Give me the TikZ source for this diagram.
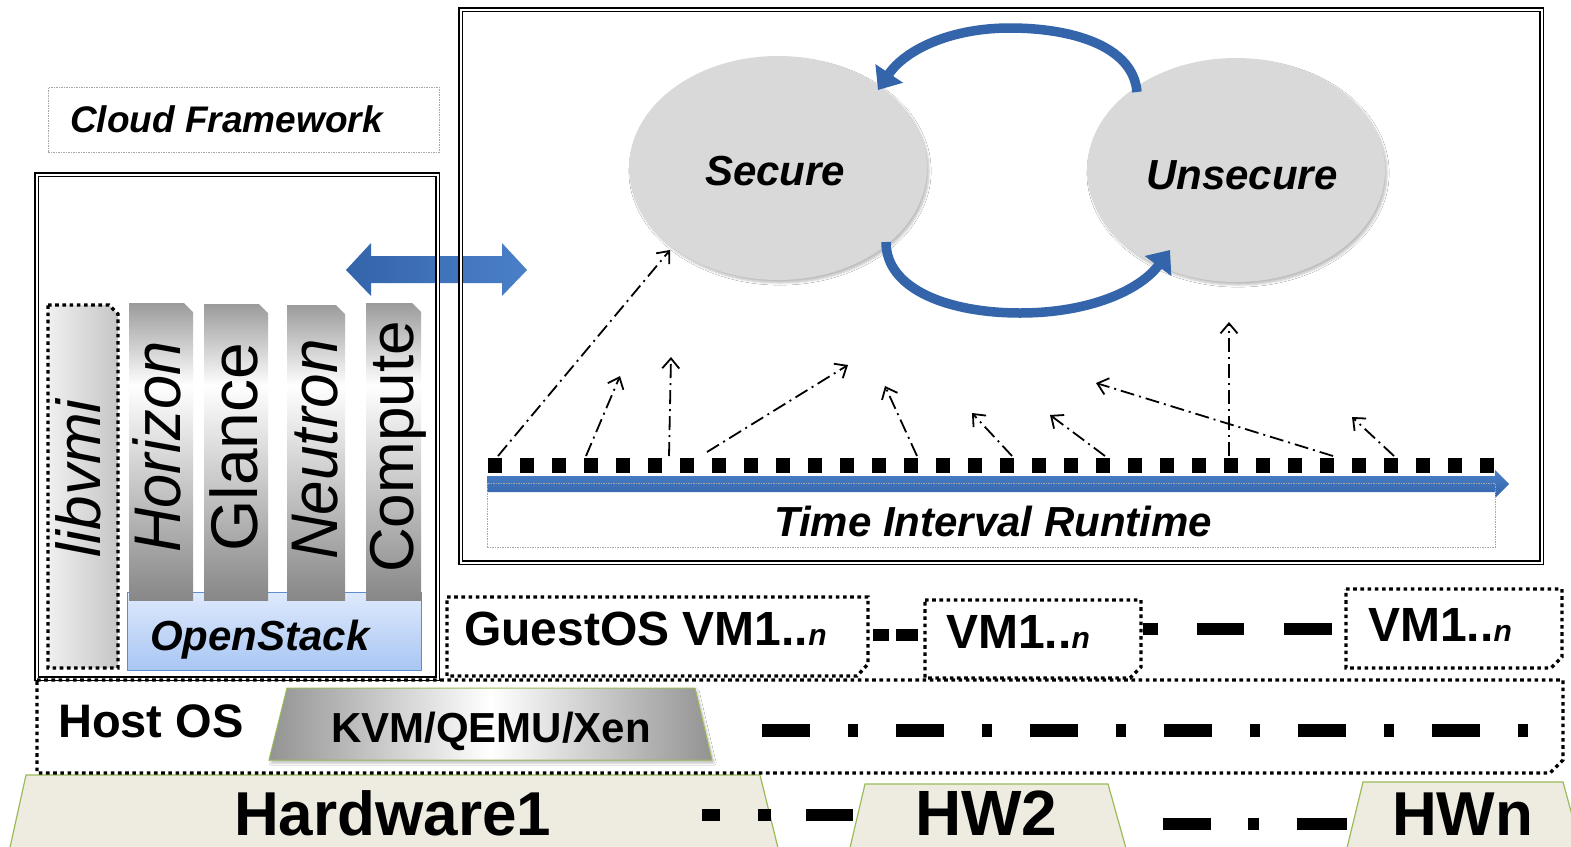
\documentclass[tikz,border=0pt]{standalone}
\usepackage{fontspec}
\setmainfont{Liberation Sans}
\usetikzlibrary{arrows.meta,shapes.geometric,shadows.blur}
\newcommand{\fsz}[1]{\fontsize{#1}{#1}\selectfont}
\definecolor{bluearr}{RGB}{52,100,170}
\definecolor{bluelight}{RGB}{74,128,200}
\definecolor{hwgreen}{RGB}{155,187,89}
\definecolor{beige}{RGB}{238,236,225}
\definecolor{ellgray}{RGB}{217,217,217}
\definecolor{osblueA}{RGB}{222,233,252}
\definecolor{osblueB}{RGB}{168,198,243}
\definecolor{osborder}{RGB}{95,140,205}
\definecolor{colA}{RGB}{155,155,155}
\definecolor{colB}{RGB}{135,135,135}
\begin{document}
\begin{tikzpicture}[x=1pt,y=-1pt,
  txt/.style={inner sep=0pt, anchor=base west},
  dbl/.style={draw=black, line width=1.2pt, double=white, double distance=2.2pt, inner sep=0pt, anchor=north west},
  dotline/.style={draw=black, line width=3.4pt, dash pattern=on 3.6pt off 3.6pt},
  thinbox/.style={draw=gray!70, line width=0.6pt, dash pattern=on 1.5pt off 1pt, inner sep=0pt, anchor=north west},
  darr/.style={draw=black, line width=1.8pt, dash pattern=on 14pt off 5pt on 2pt off 5pt,
     -{Straight Barb[length=10pt,width=17pt,line width=1.8pt]}},
  bluecurve/.style={draw=bluearr, line width=9.5pt, -{Triangle[length=20pt,width=32pt]}},
  coltop/.style={top color=colA, bottom color=white},
  colbot/.style={top color=white, bottom color=colB},
  hw/.style={draw=hwgreen, fill=beige, line width=1.2pt},
  ell/.style={ellipse, fill=ellgray, inner sep=0pt, minimum width=298pt, minimum height=224pt,
     blur shadow={shadow xshift=2pt, shadow yshift=-3pt, shadow blur steps=6, shadow opacity=25}},
]
\useasboundingbox (0,0) rectangle (1571,846);
\fill[white] (0,0) rectangle (1571,846);

% ---------- Cloud Framework label
\node[thinbox, minimum width=391pt, minimum height=65pt] (cfbox) at (48,87) {};
\node[txt, font=\fsz{37}\bfseries\itshape] (cf) at (70,132) {Cloud Framework};

% ---------- double blue arrow
\path[left color=bluearr, right color=bluelight]
  (346,270) -- (371,243) -- (371,256) -- (502,256) -- (502,243) -- (527,270)
  -- (502,296) -- (502,283) -- (371,283) -- (371,296) -- cycle;

% ---------- frames
\node[dbl, minimum width=401pt, minimum height=504pt] (leftbox) at (36,174) {};
\node[dbl, minimum width=1081pt, minimum height=553pt] (rightbox) at (460,9) {};

% ---------- OpenStack stack
\node[draw=osborder, line width=1pt, top color=osblueA, bottom color=osblueB, inner sep=0pt,
      anchor=north west, minimum width=294pt, minimum height=78pt] (osbox) at (127,592) {};
\node[txt, font=\fsz{42}\bfseries\itshape] (os) at (150,650) {OpenStack};

% libvmi
\path[left color=gray!12, right color=gray!45] (48,305) -- (109,305) -- (118,314) -- (118,668) -- (48,668) -- cycle;
\path[dotline] (48,305) -- (109,305) -- (118,314) -- (118,668) -- (48,668) -- cycle;
\node[txt, rotate=90, font=\fsz{62}\itshape] (libvmi) at (100,558) {libvmi};

% columns
\foreach \xa/\xb/\yt in {129/193/303, 204/268/304, 287/345/305, 366/421/303} {
  \path[coltop] (\xa,386) -- (\xa,\yt) -- ({\xb-9},\yt) -- (\xb,{\yt+9}) -- (\xb,386) -- cycle;
  \path[colbot] (\xa,385) rectangle (\xb,600);
}
\node[txt, rotate=90, font=\fsz{66}\itshape] (horizon) at (180,553) {\scalebox{0.93}[1]{Horizon}};
\node[txt, rotate=90, font=\fsz{66}] (glance) at (257,552) {Glance};
\node[txt, rotate=90, font=\fsz{66}\itshape] (neutron) at (337,560) {\scalebox{0.94}[1]{Neutron}};
\node[txt, rotate=90, font=\fsz{62}] (compute) at (413,573) {Compute};

% ---------- state machine
\node[ell] (sec) at (778,168) {};
\node[ell] (unsec) at (1236,170) {};
\node[txt, font=\fsz{42}\bfseries\itshape] (sectxt) at (705,185) {Secure};
\node[txt, font=\fsz{42}\bfseries\itshape] (unsectxt) at (1146,189) {Unsecure};

\coordinate (t1a) at (1137,92);
\coordinate (t1b) at (878,90);
\coordinate (t2a) at (886,242);
\coordinate (t2b) at (1170,250);
\draw[bluecurve] (t1a) .. controls (1133,45) and (1070,28) .. (1010,28)
   .. controls (950,28) and (905,50) .. (t1b);
\draw[bluecurve] (t2a) .. controls (886,290) and (950,313) .. (1020,313)
   .. controls (1090,313) and (1140,290) .. (t2b);

% ---------- time line
\draw[line width=15pt, dash pattern=on 14pt off 18pt] (488,465) -- (1502,465);
\path[top color=bluelight, bottom color=bluearr]
  (487,476) -- (1495,476) -- (1495,470) -- (1509,484) -- (1495,498) -- (1495,492) -- (487,492) -- cycle;
\node[thinbox, minimum width=1008pt, minimum height=64pt] (tibox) at (487,483) {};
\node[txt, font=\fsz{42}\bfseries\itshape] (ti) at (774,536) {Time Interval Runtime};

% dash-dot arrows
\coordinate (s1) at (498,456);  \coordinate (e1) at (670,250);
\coordinate (s2) at (586,456);  \coordinate (e2) at (620,376);
\coordinate (s3) at (669,456);  \coordinate (e3) at (671,357);
\coordinate (s4) at (707,452);  \coordinate (e4) at (848,365);
\coordinate (s5) at (917,456);  \coordinate (e5) at (885,386);
\coordinate (s6) at (1012,456); \coordinate (e6) at (972,413);
\coordinate (s7) at (1105,456); \coordinate (e7) at (1050,415);
\coordinate (s8) at (1229,456); \coordinate (e8) at (1229,322);
\coordinate (s9) at (1333,456); \coordinate (e9) at (1096,383);
\coordinate (s10) at (1394,456); \coordinate (e10) at (1352,417);
\foreach \i in {1,...,10} { \draw[darr] (s\i) -- (e\i); }

% ---------- hardware row
\path[hw] (26,775) -- (760,775) -- (779,852) -- (9,852) -- cycle;
\path[hw] (865,784) -- (1108,784) -- (1127,852) -- (849,852) -- cycle;
\path[hw] (1363,782) -- (1563,782) -- (1582,852) -- (1346,852) -- cycle;
\node[txt, font=\fsz{62}\bfseries] (hw1) at (234,835) {Hardware1};
\node[txt, font=\fsz{64}\bfseries] (hw2) at (915,835) {HW2};
\node[txt, font=\fsz{62}\bfseries] (hwn) at (1392,835) {HWn};
\fill (702,809) rectangle (720,821);
\fill (758,809) rectangle (771,821);
\fill (806,809) rectangle (853,821);
\fill (1163,818) rectangle (1211,830);
\fill (1248,818) rectangle (1259,830);
\fill (1297,818) rectangle (1347,830);

% ---------- host OS row
\path[left color=gray!85, right color=gray!85, middle color=white, draw=hwgreen, line width=1pt,
   blur shadow={shadow xshift=2pt, shadow yshift=-3pt, shadow blur steps=5, shadow opacity=25}]
  (287,688) -- (695,688) -- (712,760) -- (269,760) -- cycle;
\path[dotline] (37,680) -- (1563,680) -- (1563,760) -- (1550,773) -- (37,773) -- cycle;
\node[txt, font=\fsz{47}\bfseries] (host) at (58,737) {Host OS};
\node[txt, font=\fsz{42}\bfseries] (kvm) at (331,742) {KVM/QEMU/Xen};
\draw[line width=13pt, dash pattern=on 48pt off 38pt on 10pt off 38pt] (762,730) -- (1530,730);

% ---------- guest VMs row
\path[dotline] (447,597) -- (868,597) -- (868,664) -- (857,676) -- (447,676) -- cycle;
\path[dotline] (925,600) -- (1141,600) -- (1141,667) -- (1130,678) -- (925,678) -- cycle;
\path[dotline] (1346,589) -- (1562,589) -- (1562,657) -- (1551,668) -- (1346,668) -- cycle;
\node[txt, font=\fsz{48}\bfseries] (g1) at (464,645) {GuestOS VM1..{\fsz{30}\itshape n}};
\node[txt, font=\fsz{48}\bfseries] (g2) at (946,648) {VM1..{\fsz{30}\itshape n}};
\node[txt, font=\fsz{48}\bfseries] (g3) at (1368,641) {VM1..{\fsz{30}\itshape n}};
\fill (873,629) rectangle (889,641);
\fill (896,629) rectangle (918,641);
\fill (1143,623) rectangle (1158,635);
\fill (1197,623) rectangle (1244,635);
\fill (1284,623) rectangle (1332,635);
\end{tikzpicture}
\end{document}
